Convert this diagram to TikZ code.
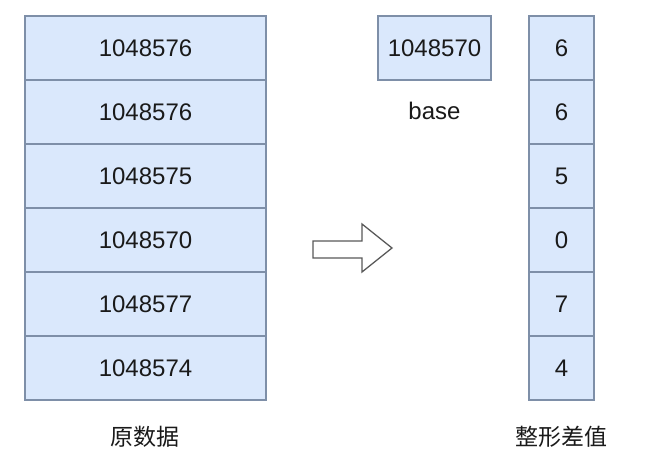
\documentclass[tikz,border=0pt]{standalone}
\usepackage{fontspec}
\setmainfont{Liberation Sans}
\newfontfamily\cjk{Noto Sans CJK SC}[BoldFont={Noto Sans CJK SC Bold}]
\definecolor{cellfill}{HTML}{DAE8FC}
\definecolor{cellline}{HTML}{7E8FA8}
\definecolor{txt}{HTML}{1A1A1A}
\begin{document}
\begin{tikzpicture}[x=1pt,y=-1pt,
  cell/.style={draw=cellline,line width=1.2pt,fill=cellfill,minimum height=64pt,inner sep=0pt,text=txt,font=\fontsize{24}{27}\selectfont},
  wide/.style={cell,minimum width=241pt},
  narrow/.style={cell,minimum width=65pt},
  lbl/.style={text=txt,inner sep=0pt}]
\useasboundingbox (0,0) rectangle (664,466);
\foreach \v [count=\i] in {1048576,1048576,1048575,1048570,1048577,1048574}{
  \node[wide] (L\i) at (145.5,{16+32+64*(\i-1)}) {\v};
}
\foreach \v [count=\i] in {6,6,5,0,7,4}{
  \node[narrow] (R\i) at (561.5,{16+32+64*(\i-1)}) {\v};
}
\node[cell,minimum width=113pt] (B) at (434.5,48) {1048570};
\node[lbl,font=\fontsize{24}{27}\selectfont] (bl) at (434.5,111) {base};
\node[lbl,font=\cjk\fontsize{23}{26}\selectfont] (l1) at (145,437) {原数据};
\node[lbl,font=\cjk\fontsize{23}{26}\selectfont] (l2) at (561,437) {整形差值};
\draw[draw=black!65,line width=1.3pt,fill=white,line join=miter]
  (313,241) -- (362,241) -- (362,224) -- (392,248) -- (362,272) -- (362,258) -- (313,258) -- cycle;
\end{tikzpicture}
\end{document}
